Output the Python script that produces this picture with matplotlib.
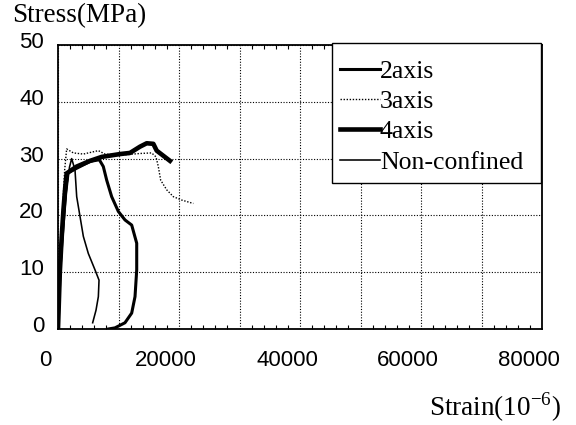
import numpy as np
import matplotlib
matplotlib.use("Agg")
import matplotlib.pyplot as plt
import matplotlib.transforms as mtransforms
from matplotlib.patches import Rectangle

plt.rcParams['mathtext.fontset'] = 'custom'
plt.rcParams['mathtext.rm'] = 'Liberation Serif'

# --- Datos (strain 10^-6, stress MPa) ---
eps_2axis = [0, 200, 400, 800, 1200, 1600, 2540, 3640, 5290, 6830, 7490, 8050,
             8870, 9970, 11070, 12180, 13010, 13010, 12730, 12180, 11070, 9420, 8320]
sig_2axis = [0, 6, 12, 19, 24, 27.5, 28, 28.6, 29.5, 29.8, 28.6, 26.2,
             23.3, 20.7, 19.2, 18.3, 15.1, 10.4, 5.7, 2.8, 1.1, 0.2, 0]

eps_3axis = [0, 300, 700, 1100, 1430, 2540, 4190, 6670, 7770, 10250, 13550,
             15480, 16200, 16580, 16970, 17970, 19060, 20450, 22370]
sig_3axis = [0, 10, 20, 28, 31.7, 31.0, 30.8, 31.4, 30.8, 30.6, 30.9,
             31.0, 30.3, 28.6, 26.2, 24.5, 23.3, 22.7, 22.1]

eps_4axis = [0, 150, 300, 600, 900, 1200, 1430, 3090, 5290, 7220, 10250, 11900,
             13550, 14660, 15760, 16310, 17410, 18510]
sig_4axis = [0, 5, 10, 16, 21, 25, 27.4, 28.6, 29.6, 30.3, 30.8, 31.0,
             32.1, 32.7, 32.6, 31.4, 30.5, 29.6]

eps_nc = [0, 300, 800, 1400, 1900, 2260, 2810, 3090, 3640, 4190, 5010, 6120,
          6780, 6670, 6280, 5730]
sig_nc = [0, 8, 16, 24, 28.5, 30, 28, 23.3, 19.8, 16.3, 13.3, 10.4,
          8.6, 5.7, 3.3, 1.1]

x_ticks = [0, 20000, 40000, 60000, 80000]
y_ticks = [0, 10, 20, 30, 40, 50]

fig = plt.figure(figsize=(5.76, 4.25), dpi=100)
ax = fig.add_axes([58 / 576, 1 - 329 / 425, 484 / 576, 284 / 425])

ax.plot(eps_2axis, sig_2axis, color='black', lw=2.2, label='2axis')
ax.plot(eps_3axis, sig_3axis, color='black', lw=1.0, linestyle=(0, (1, 1.2)), label='3axis')
ax.plot(eps_4axis, sig_4axis, color='black', lw=3.3, label='4axis')
ax.plot(eps_nc, sig_nc, color='black', lw=1.15, label='Non-confined')

ax.set_xlim(0, 80000)
ax.set_ylim(0, 50)

# grilla cada 10000 / 10, etiquetas cada 20000
ax.set_xticks(np.arange(0, 80001, 10000))
ax.set_xticklabels([str(v) if v in x_ticks else '' for v in range(0, 80001, 10000)])
ax.set_yticks(y_ticks)
ax.set_xticks(np.arange(0, 80001, 2000), minor=True)
ax.tick_params(axis='x', which='major', length=0, pad=15, labelsize=16)
ax.tick_params(axis='y', which='major', length=0, pad=10, labelsize=16)
ax.tick_params(axis='x', which='minor', direction='in', length=3, width=0.8,
               top=True, bottom=True)
for lbl in ax.get_xticklabels() + ax.get_yticklabels():
    lbl.set_fontfamily('Liberation Sans')

dx = mtransforms.ScaledTranslation(-13 / 100, 0, fig.dpi_scale_trans)
for lbl in ax.get_xticklabels():
    lbl.set_transform(lbl.get_transform() + dx)
dy = mtransforms.ScaledTranslation(0, 5 / 100, fig.dpi_scale_trans)
for lbl in ax.get_yticklabels():
    lbl.set_transform(lbl.get_transform() + dy)

ax.grid(True, which='major', color='black', lw=0.8, linestyle=(0, (1, 1.5)))
for s in ax.spines.values():
    s.set_linewidth(1.3)
    s.set_color('black')

# marco de la leyenda dibujado a mano
ax.add_patch(Rectangle((332 / 576, 1 - 183 / 425), 209 / 576, 140 / 425,
                       transform=fig.transFigure, facecolor='white',
                       edgecolor='black', lw=1.0, zorder=5, clip_on=False))
leg = ax.legend(loc='upper left', bbox_to_anchor=(340 / 576, 1 - 60 / 425),
                bbox_transform=fig.transFigure, borderaxespad=0, borderpad=0,
                prop={'family': 'Liberation Serif', 'size': 18.5},
                handlelength=1.55, handletextpad=0, labelspacing=0.28,
                frameon=False)
leg.set_zorder(6)

fig.text(12 / 576, 1 - 16 / 425, 'Stress(MPa)', family='Liberation Serif',
         fontsize=19.5, va='center', ha='left')
fig.text(561 / 576, 1 - 407 / 425, r'Strain(10$^{\mathrm{-6}}$)', family='Liberation Serif',
         fontsize=19.5, va='center', ha='right')

fig.savefig('out.png', dpi=100)
